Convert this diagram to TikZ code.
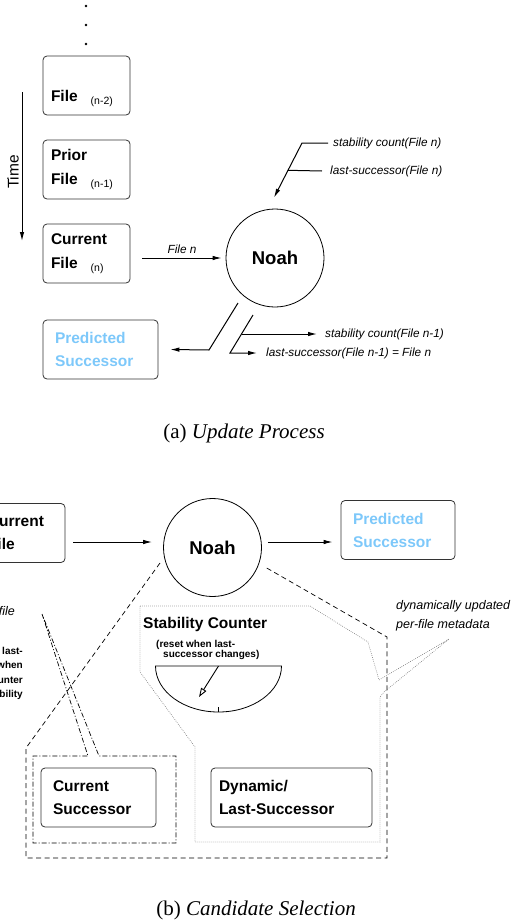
\documentclass[tikz,border=0pt]{standalone}
\usepackage{fontspec}
\setmainfont{Liberation Sans}
\newfontfamily\capfont{Liberation Serif}
\usetikzlibrary{arrows.meta,calc}
\definecolor{predblue}{RGB}{125,200,250}
\newcommand{\nsub}[1]{\hspace{13pt}\raisebox{-3pt}{\mdseries\fontsize{10.5}{10.5}\selectfont(#1)}}

\begin{document}
\begin{tikzpicture}[x=1pt, y=-1pt,
    box/.style={draw=black!80, line width=0.8pt, rounded corners=4pt, minimum height=59pt,
        inner ysep=0pt, align=left, font=\bfseries\fontsize{15.5}{23}\selectfont},
    lbl/.style={font=\itshape\fontsize{11.8}{14}\selectfont, inner sep=0pt},
    arr/.style={-{Latex[length=9pt,width=4.5pt]}, line width=1pt},
    noah/.style={circle, draw, line width=0.8pt, minimum size=98pt, inner sep=0pt,
        font=\bfseries\fontsize{18.5}{20}\selectfont},
    region/.style={line width=0.7pt, dash pattern=on 5pt off 3.5pt},
    dotregion/.style={draw=black!55, line width=0.6pt, dash pattern=on 0.7pt off 1.3pt},
    caption/.style={font=\capfont\fontsize{21}{24}\selectfont, inner sep=0pt}]
    \useasboundingbox (0,0) rectangle (514,924);

    \foreach \y in {6,25,44}
        \fill (86,\y) circle (1.4pt);
    \node[box, text width=71pt, inner xsep=8pt] (fileA) at (86.5,85.5)
        {\vphantom{P}\\[4pt]File\nsub{n-2}};
    \node[box, text width=71pt, inner xsep=8pt, font=\bfseries\fontsize{15.5}{24}\selectfont] (fileB) at (86.5,169.5)
        {Prior\\File\nsub{n-1}};
    \node[box, text width=71pt, inner xsep=8pt, font=\bfseries\fontsize{15.5}{24}\selectfont] (fileC) at (86.5,253.5)
        {Current\\File\nsub{n}};
    \node[box, text width=91pt, inner xsep=12pt, text=predblue] (predA) at (100.5,349.5)
        {Predicted\\Successor};
    \node[noah] (noahA) at (275,258) {Noah};

    \coordinate (t0) at (22,92);
    \coordinate (t1) at (22,241);
    \draw[arr] (t0) -- (t1);
    \node[rotate=90, inner sep=0pt, font=\fontsize{15.5}{16}\selectfont] (timelbl) at (13,172) {Time};

    \draw[arr] ([xshift=12pt]fileC.east |- noahA.west) -- ([xshift=-4pt]noahA.west)
        node[lbl, midway, above=3.5pt] (filen) {File n};

    \node[lbl, anchor=west] (scA) at (333,143) {stability count(File n)};
    \node[lbl, anchor=west] (lsA) at (330,171) {last-successor(File n)};
    \coordinate (bendA) at (302,143);
    \coordinate (tipA) at ($(noahA.north)+(-1,-11)$);
    \draw[arr] ([xshift=-5pt]scA.west) -- (bendA) -- (tipA);
    \draw[line width=1pt] ([xshift=-8pt]lsA.west) -- ($(bendA)!0.5!(tipA)$);

    \node[lbl, anchor=west] (scB) at (325,334) {stability count(File n-1)};
    \node[lbl, anchor=west] (lsB) at (266,353) {last-successor(File n-1) = File n};
    \coordinate (outA) at (238,303);
    \coordinate (outB) at (253,315);
    \coordinate (kinkB) at (230,353);
    \draw[arr] (outA) -- ++(-29,47) -- ([xshift=12pt]predA.east);
    \draw[arr] (outB) -- (kinkB) -- ([xshift=-9pt]lsB.west);
    \draw[arr] ($(outB)!0.5!(kinkB)$) -- ([xshift=-8pt]scB.west);

    \node[caption, anchor=base] (capA) at (244,438) {(a) \textit{Update Process}};

    \node[box, text width=65pt, inner xsep=12pt] (curB) at (20.5,533) {Current\\File};
    \node[noah] (noahB) at (212.5,547.5) {Noah};
    \node[box, text width=90pt, inner xsep=12pt, text=predblue] (predB) at (398,530)
        {Predicted\\Successor};
    \draw[arr] ([shift={(8,9)}]curB.east) -- ([shift={(-11,-5.5)}]noahB.west);
    \draw[arr] ([shift={(6,-5.5)}]noahB.east) -- ([shift={(-8,12)}]predB.west);

    \draw[region] (160,563) -- (26,748) -- (26,858) -- (387,858) -- (387,637) -- (265,567);
    \draw[dotregion] (140,606) -- (310,606) -- (368,642) -- (379,680) -- (449,639) -- (384,692)
        -- (380,697) -- (380,842) -- (195,842) -- (195,747) -- (140,672) -- cycle;
    \draw[line width=0.7pt, dash pattern=on 5pt off 2pt on 1pt off 2pt]
        (42,614) -- (88,756) -- (33,756) -- (33,843) -- (176,843) -- (176,756) -- (99,756) -- cycle;

    \node[font=\itshape\fontsize{12.5}{19.5}\selectfont, inner sep=0pt, anchor=base west, align=left] (metalbl)
        at (396,628.5) {dynamically updated\\per-file metadata};
    \node[font=\itshape\fontsize{12.5}{14}\selectfont, inner sep=0pt, anchor=base east] (perfile)
        at (15,615) {per-file};
    \foreach \t [count=\i] in {last-,when,counter,stability}
        \node[font=\bfseries\fontsize{10}{10}\selectfont, inner sep=0pt, anchor=base east] (note\i)
            at (23,{654+14.5*(\i-1)}) {\t};

    \node[font=\bfseries\fontsize{15.5}{18}\selectfont, inner sep=0pt, anchor=base west] (stab)
        at (143,628) {Stability Counter};
    \node[font=\bfseries\fontsize{10}{11}\selectfont, inner sep=0pt, anchor=base west] (stabsubA)
        at (156,647) {(reset when last-};
    \node[font=\bfseries\fontsize{10}{11}\selectfont, inner sep=0pt, anchor=base west] (stabsubB)
        at (163,657.5) {successor changes)};
    \draw[line width=0.8pt] (155.5,666) -- (281.5,666) arc[start angle=0, end angle=180, x radius=63, y radius=46] -- cycle;
    \draw[line width=0.6pt] (218.5,712) -- ++(0,-5);
    \draw[-{Triangle[open,length=9pt,width=6pt]}, line width=0.9pt] (218.5,666) -- (199,697);

    \node[box, text width=91pt, inner xsep=12pt] (cursucc) at (98.5,797.5) {Current\\Successor};
    \node[box, text width=145pt, inner xsep=8pt] (dyn) at (291.5,797.5) {Dynamic/\\Last-Successor};

    \node[caption, anchor=base] (capB) at (256,915) {(b) \textit{Candidate Selection}};
\end{tikzpicture}
\end{document}
